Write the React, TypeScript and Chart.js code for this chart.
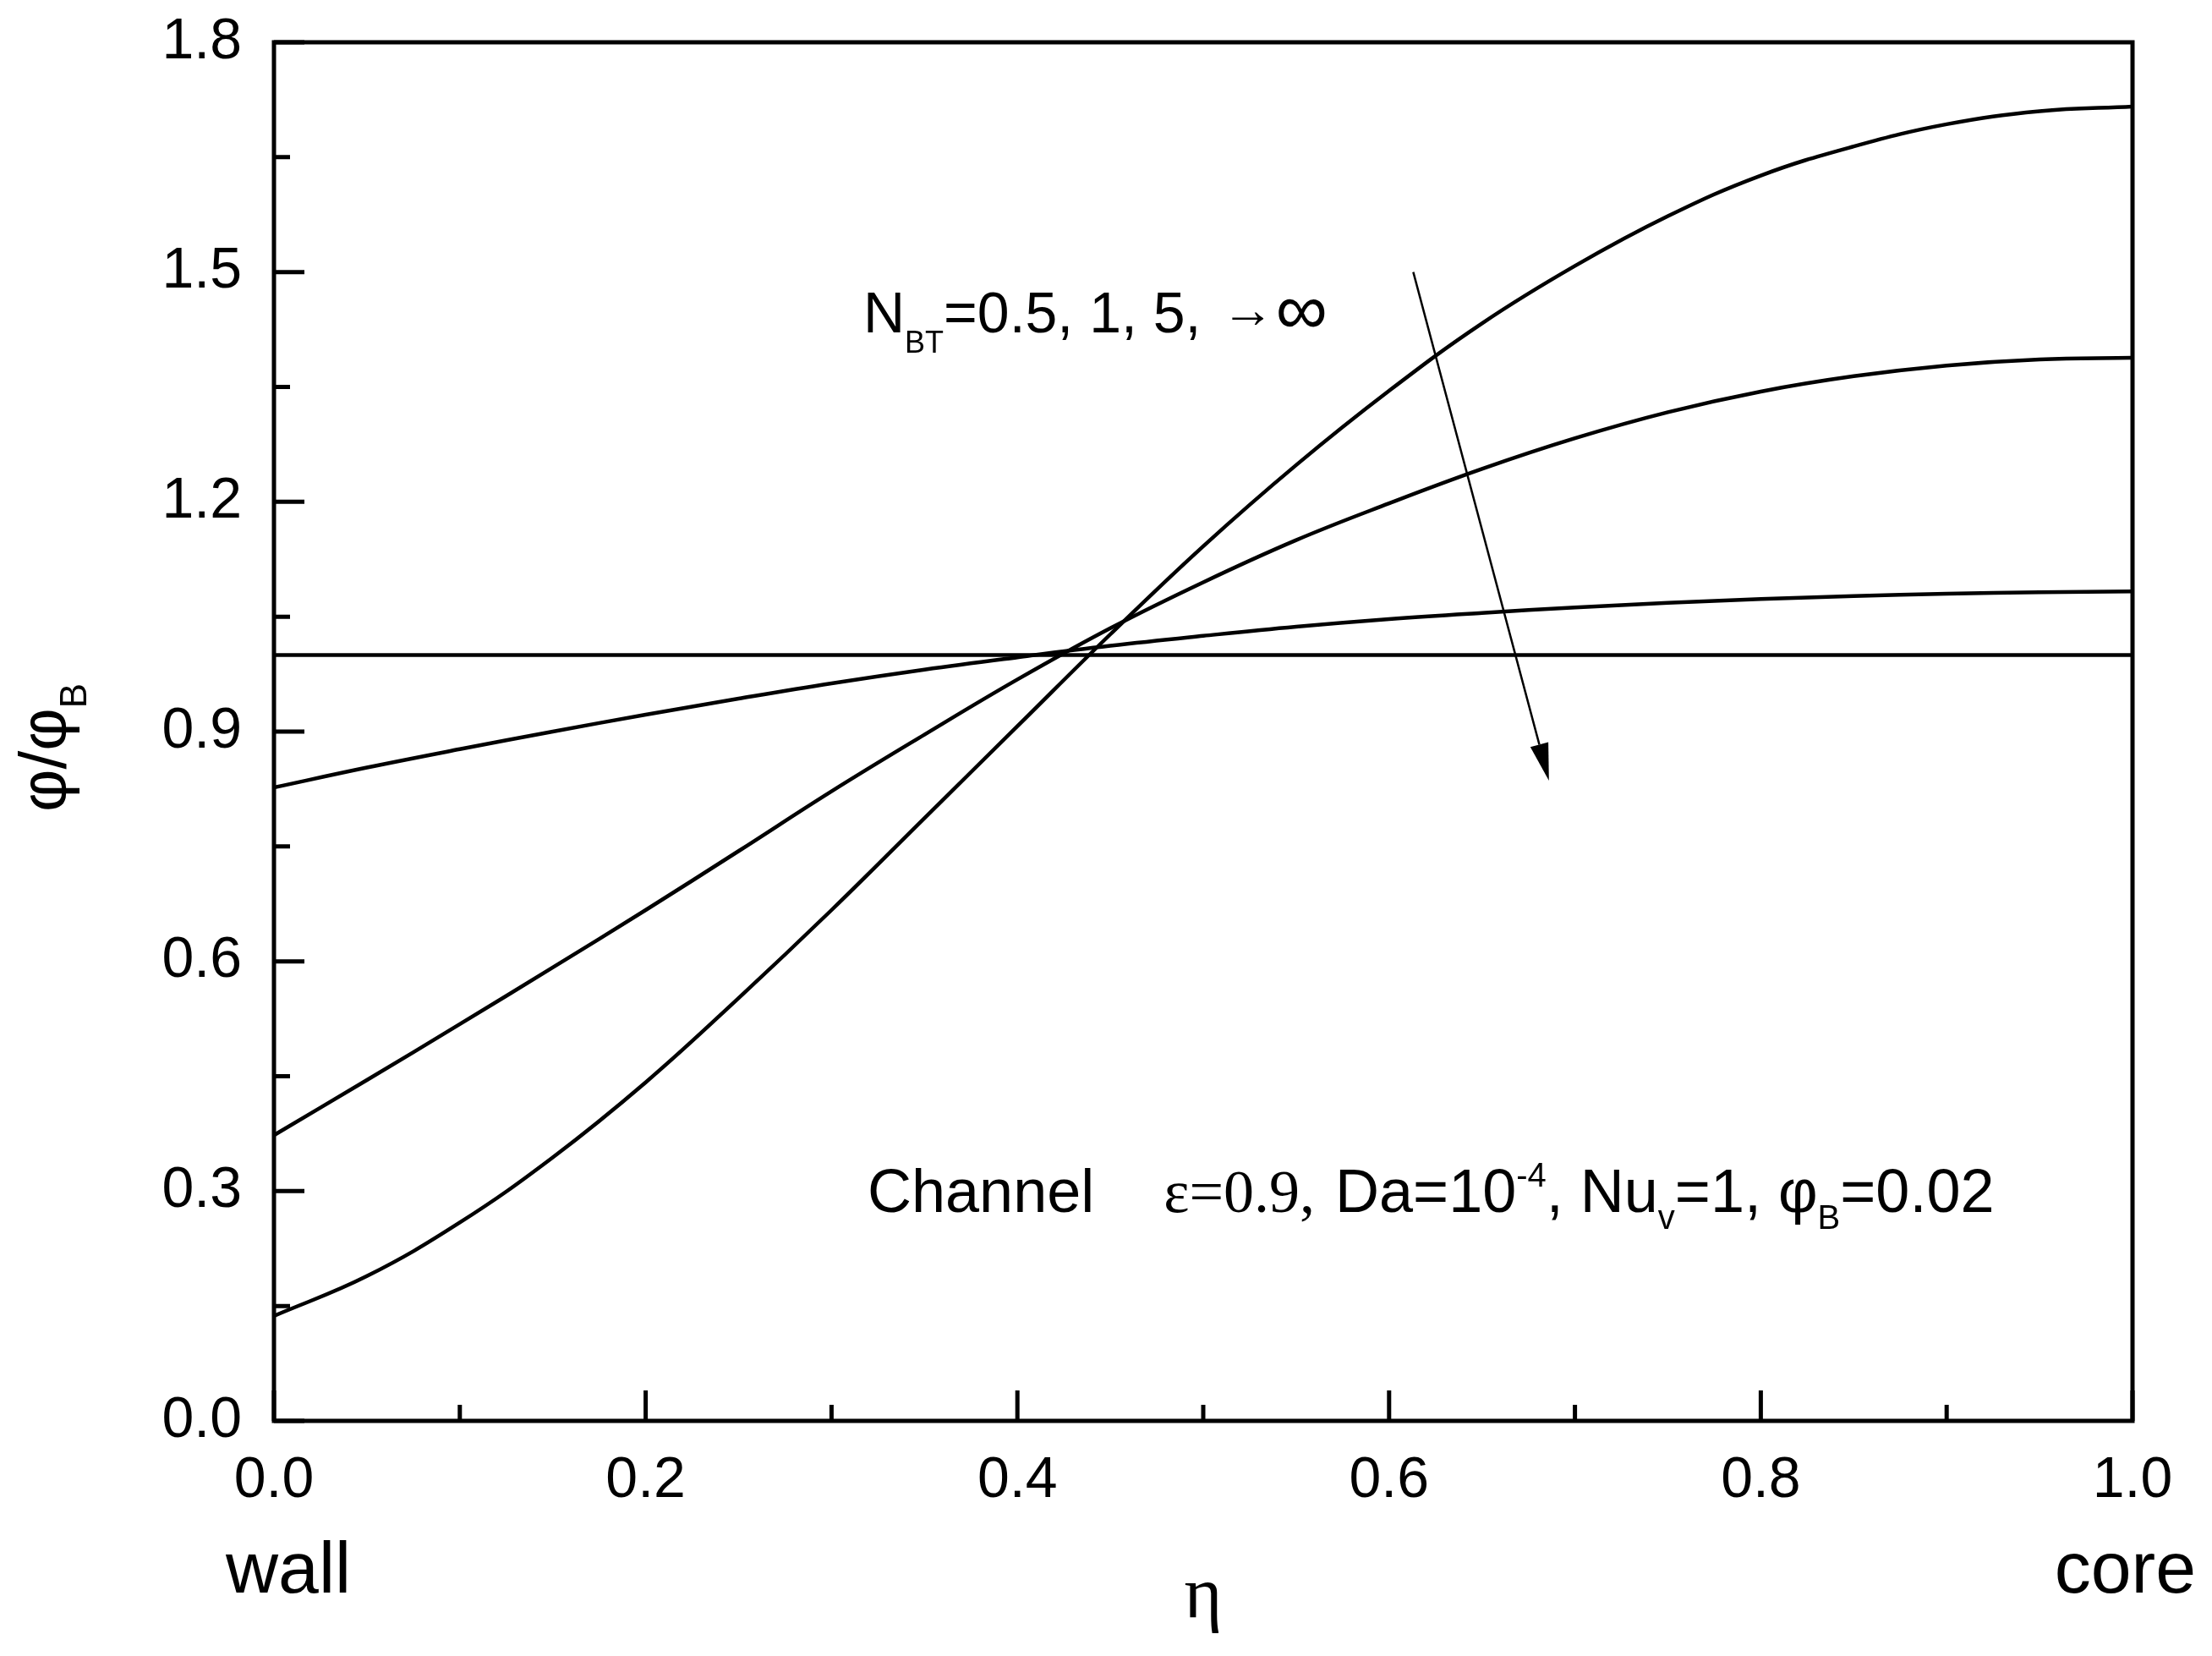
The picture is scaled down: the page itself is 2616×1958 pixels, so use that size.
import React, { useEffect, useRef } from 'react';
import { Chart, ChartConfiguration, Plugin, registerables } from 'chart.js';

Chart.register(...registerables);

// eta (wall -> core)
const etaValues = [0, 0.05, 0.1, 0.15, 0.2, 0.25, 0.3, 0.35, 0.4, 0.45, 0.5, 0.55, 0.6, 0.65, 0.7, 0.75, 0.8, 0.85, 0.9, 0.95, 1.0];

// phi/phiB for N_BT = 0.5, 1, 5, inf
const phiNbt05 = [0.137, 0.189, 0.259, 0.344, 0.442, 0.552, 0.667, 0.787, 0.907, 1.027, 1.142, 1.248, 1.345, 1.433, 1.508, 1.573, 1.626, 1.664, 1.693, 1.71, 1.716];
const phiNbt1 = [0.373, 0.445, 0.518, 0.592, 0.667, 0.744, 0.822, 0.896, 0.968, 1.035, 1.095, 1.15, 1.198, 1.243, 1.283, 1.317, 1.344, 1.364, 1.378, 1.386, 1.388];
const phiNbt5 = [0.827, 0.853, 0.877, 0.9, 0.922, 0.943, 0.963, 0.981, 0.997, 1.012, 1.025, 1.037, 1.047, 1.055, 1.062, 1.068, 1.073, 1.077, 1.08, 1.082, 1.083];
const phiNbtInf = [1, 1, 1, 1, 1, 1, 1, 1, 1, 1, 1, 1, 1, 1, 1, 1, 1, 1, 1, 1, 1];

const xMajorTicks = [0, 0.2, 0.4, 0.6, 0.8, 1.0];
const xMinorTicks = [0.1, 0.3, 0.5, 0.7, 0.9];
const yMajorTicks = [0, 0.3, 0.6, 0.9, 1.2, 1.5, 1.8];
const yMinorTicks = [0.15, 0.45, 0.75, 1.05, 1.35, 1.65];

// arrow across curves (eta, phi/phiB)
const arrowFrom = [0.613, 1.5];
const arrowTo = [0.686, 0.836];

const SANS = '"Liberation Sans", Arial, sans-serif';
const SERIF = '"Liberation Serif", "Times New Roman", serif';

type Seg = { text: string; font: string; dy?: number; gap?: number };

const drawRich = (ctx: CanvasRenderingContext2D, x: number, y: number, segs: Seg[]) => {
    let cx = x;
    for (const s of segs) {
        ctx.font = s.font;
        ctx.fillText(s.text, cx, y + (s.dy || 0));
        cx += ctx.measureText(s.text).width + (s.gap || 0);
    }
};

const decorations: Plugin = {
    id: 'decorations',
    afterDraw(chart) {
        const { ctx, chartArea: a, scales } = chart;
        const xs = scales.x;
        const ys = scales.y;
        ctx.save();
        ctx.strokeStyle = '#000';
        ctx.fillStyle = '#000';

        // frame
        ctx.lineWidth = 5;
        ctx.strokeRect(a.left, a.top, a.right - a.left, a.bottom - a.top);

        // inward ticks
        ctx.beginPath();
        yMajorTicks.forEach(v => {
            const py = ys.getPixelForValue(v);
            ctx.moveTo(a.left, py);
            ctx.lineTo(a.left + 36, py);
        });
        yMinorTicks.forEach(v => {
            const py = ys.getPixelForValue(v);
            ctx.moveTo(a.left, py);
            ctx.lineTo(a.left + 19, py);
        });
        xMajorTicks.forEach(v => {
            const px = xs.getPixelForValue(v);
            ctx.moveTo(px, a.bottom);
            ctx.lineTo(px, a.bottom - 36);
        });
        xMinorTicks.forEach(v => {
            const px = xs.getPixelForValue(v);
            ctx.moveTo(px, a.bottom);
            ctx.lineTo(px, a.bottom - 19);
        });
        ctx.stroke();

        // arrow
        const x0 = xs.getPixelForValue(arrowFrom[0]);
        const y0 = ys.getPixelForValue(arrowFrom[1]);
        const x1 = xs.getPixelForValue(arrowTo[0]);
        const y1 = ys.getPixelForValue(arrowTo[1]);
        const ang = Math.atan2(y1 - y0, x1 - x0);
        const headLen = 44;
        const headHalf = 11;
        const bx = x1 - headLen * Math.cos(ang);
        const by = y1 - headLen * Math.sin(ang);
        ctx.lineWidth = 2.5;
        ctx.beginPath();
        ctx.moveTo(x0, y0);
        ctx.lineTo(bx, by);
        ctx.stroke();
        ctx.beginPath();
        ctx.moveTo(x1, y1);
        ctx.lineTo(bx + headHalf * Math.sin(ang), by - headHalf * Math.cos(ang));
        ctx.lineTo(bx - headHalf * Math.sin(ang), by + headHalf * Math.cos(ang));
        ctx.closePath();
        ctx.fill();

        // annotations
        ctx.textBaseline = 'alphabetic';
        ctx.textAlign = 'left';
        drawRich(ctx, 1021, 393, [
            { text: 'N', font: `68px ${SANS}` },
            { text: 'BT', font: `36px ${SANS}`, dy: 24 },
            { text: '=0.5, 1, 5,', font: `68px ${SANS}`, gap: 24 },
            { text: '\u2192', font: `62px ${SANS}`, dy: -6, gap: 2 },
            { text: '\u221E', font: `86px ${SANS}`, dy: 2 },
        ]);
        drawRich(ctx, 1026, 1433, [
            { text: 'Channel', font: `72px ${SANS}`, gap: 82 },
            { text: '\u03B5=0.9,', font: `72px ${SERIF}`, gap: 24 },
            { text: 'Da=10', font: `72px ${SANS}` },
            { text: '-4', font: `40px ${SANS}`, dy: -30 },
            { text: ', Nu', font: `72px ${SANS}` },
            { text: 'v', font: `40px ${SANS}`, dy: 20 },
            { text: '=1, ', font: `72px ${SANS}` },
            { text: '\u03C6', font: `72px ${SANS}` },
            { text: 'B', font: `40px ${SANS}`, dy: 20 },
            { text: '=0.02', font: `72px ${SANS}` },
        ]);

        // axis titles
        ctx.font = `86px ${SANS}`;
        ctx.fillText('wall', 267, 1883);
        ctx.textAlign = 'right';
        ctx.fillText('core', 2597, 1883);
        ctx.textAlign = 'center';
        ctx.font = `86px ${SERIF}`;
        ctx.fillText('\u03B7', (a.left + a.right) / 2, 1912);

        ctx.save();
        ctx.translate(78, 960);
        ctx.rotate(-Math.PI / 2);
        ctx.textAlign = 'left';
        drawRich(ctx, 0, 0, [
            { text: '\u03C6/\u03C6', font: `78px ${SANS}` },
            { text: 'B', font: `44px ${SANS}`, dy: 24 },
        ]);
        ctx.restore();

        ctx.restore();
    },
};

const series = [phiNbt05, phiNbt1, phiNbt5, phiNbtInf];

const App: React.FC = () => {
    const canvasRef = useRef<HTMLCanvasElement>(null);
    const chartRef = useRef<Chart | null>(null);

    useEffect(() => {
        document.body.style.margin = '0';
        if (!canvasRef.current) return;
        if (chartRef.current) chartRef.current.destroy();
        const ctx = canvasRef.current.getContext('2d');
        if (!ctx) return;

        const config: ChartConfiguration = {
            type: 'line',
            data: {
                datasets: series.map((s, i) => ({
                    label: `N${i}`,
                    data: etaValues.map((x, j) => ({ x, y: s[j] })),
                    borderColor: '#000',
                    borderWidth: 4.5,
                    pointRadius: 0,
                    fill: false,
                    tension: 0.4,
                })),
            },
            options: {
                responsive: false,
                devicePixelRatio: 1,
                animation: false,
                layout: { padding: { top: 50, right: 94, left: 0, bottom: 0 } },
                plugins: {
                    legend: { display: false },
                    tooltip: { enabled: false },
                },
                scales: {
                    x: {
                        type: 'linear',
                        min: 0,
                        max: 1,
                        grid: { display: false, drawTicks: false },
                        border: { display: false },
                        afterBuildTicks: (scale: any) => {
                            scale.ticks = xMajorTicks.map(value => ({ value }));
                        },
                        afterFit: (scale: any) => {
                            scale.height = 278;
                            scale.paddingLeft = 0;
                            scale.paddingRight = 0;
                        },
                        ticks: {
                            padding: 30,
                            maxRotation: 0,
                            color: '#000',
                            font: { size: 68, family: SANS },
                            callback: (v: any) => Number(v).toFixed(1),
                        },
                    },
                    y: {
                        type: 'linear',
                        min: 0,
                        max: 1.8,
                        grid: { display: false, drawTicks: false },
                        border: { display: false },
                        afterBuildTicks: (scale: any) => {
                            scale.ticks = yMajorTicks.map(value => ({ value }));
                        },
                        afterFit: (scale: any) => {
                            scale.width = 324;
                            scale.paddingTop = 0;
                            scale.paddingBottom = 0;
                        },
                        ticks: {
                            padding: 38,
                            color: '#000',
                            font: { size: 68, family: SANS },
                            callback: (v: any) => Number(v).toFixed(1),
                        },
                    },
                },
            },
            plugins: [decorations],
        };

        chartRef.current = new Chart(ctx, config);

        return () => {
            if (chartRef.current) {
                chartRef.current.destroy();
                chartRef.current = null;
            }
        };
    }, []);

    return (
        <div style={{ position: 'absolute', left: 0, top: 0, width: 2616, height: 1958, background: '#fff' }}>
            <canvas ref={canvasRef} width={2616} height={1958} style={{ display: 'block' }} />
        </div>
    );
};

export default App;
